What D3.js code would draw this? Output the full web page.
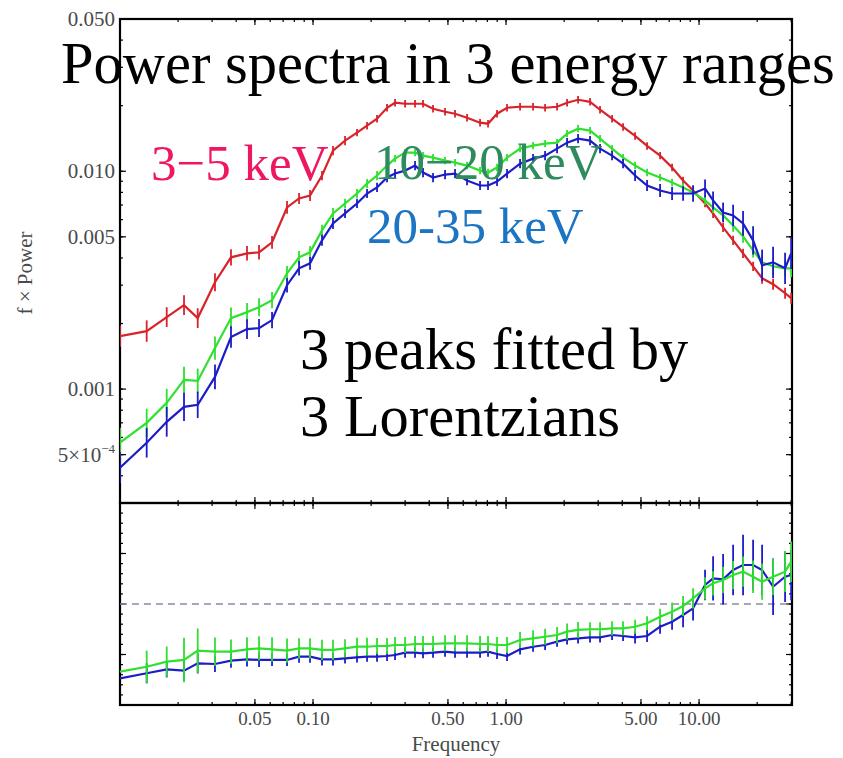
<!DOCTYPE html>
<html><head><meta charset="utf-8">
<script src="https://cdn.jsdelivr.net/npm/d3@7"></script>
<style>body{margin:0;background:#fff}svg{display:block}</style>
</head><body>
<svg id="c" width="843" height="758"></svg>
<script>
// ---------- data ----------
const freqs = [0.0100,0.01375,0.01746,0.02146,0.02527,0.03105,0.03759,0.04550,0.05252,0.06133,0.07334,0.08464,0.09650,
  0.1113,0.1269,0.1465,0.1690,0.1905,0.2146,0.2418,0.2660,0.2998,0.3377,0.3715,0.4186,0.4830,
  0.5442,0.6280,0.7334,0.8066,0.8981,1.012,1.182,1.380,1.593,1.838,2.071,2.361,2.724,3.069,3.542,4.039,4.661,5.378,
  6.281,7.246,8.262,9.309,10.74,11.82,13.32,15.01,16.90,19.05,21.21,24.18,27.90,30.0];

const power35 = [1.751e-3,1.846e-3,2.140e-3,2.429e-3,2.118e-3,3.095e-3,4.027e-3,4.201e-3,4.245e-3,4.719e-3,6.822e-3,7.500e-3,7.741e-3,
  9.557e-3,1.244e-2,1.382e-2,1.504e-2,1.619e-2,1.743e-2,1.957e-2,2.063e-2,2.041e-2,2.041e-2,2.041e-2,1.936e-2,1.876e-2,
  1.837e-2,1.761e-2,1.671e-2,1.653e-2,1.837e-2,1.957e-2,1.978e-2,1.978e-2,1.957e-2,1.978e-2,2.063e-2,2.129e-2,2.084e-2,1.916e-2,
  1.743e-2,1.597e-2,1.452e-2,1.307e-2,1.180e-2,1.040e-2,9.066e-3,8.162e-3,7.113e-3,6.402e-3,5.525e-3,4.818e-3,4.201e-3,
  3.662e-3,3.227e-3,3.030e-3,2.756e-3,2.615e-3];
const power1020 = [5.673e-4,7.003e-4,8.647e-4,1.102e-3,1.090e-3,1.543e-3,2.118e-3,2.256e-3,2.378e-3,2.560e-3,3.402e-3,4.027e-3,4.245e-3,
  5.354e-3,6.402e-3,7.113e-3,7.905e-3,8.785e-3,9.557e-3,1.062e-2,1.143e-2,1.218e-2,1.218e-2,1.180e-2,1.155e-2,1.119e-2,
  1.096e-2,1.062e-2,1.007e-2,9.865e-3,1.040e-2,1.155e-2,1.270e-2,1.311e-2,1.339e-2,1.353e-2,1.488e-2,1.569e-2,1.536e-2,1.412e-2,
  1.270e-2,1.155e-2,1.062e-2,9.865e-3,9.359e-3,8.878e-3,8.424e-3,7.991e-3,7.345e-3,6.822e-3,6.270e-3,5.643e-3,5.026e-3,
  4.335e-3,3.820e-3,3.662e-3,3.585e-3,3.585e-3];
const power2035 = [4.358e-4,5.673e-4,7.077e-4,8.290e-4,8.467e-4,1.137e-3,1.733e-3,1.886e-3,1.906e-3,2.074e-3,2.999e-3,3.585e-3,3.780e-3,
  4.818e-3,5.762e-3,6.402e-3,7.113e-3,7.905e-3,8.424e-3,9.359e-3,9.761e-3,1.007e-2,1.062e-2,9.865e-3,9.359e-3,9.658e-3,
  9.761e-3,9.066e-3,8.602e-3,8.602e-3,8.974e-3,9.761e-3,1.084e-2,1.143e-2,1.180e-2,1.270e-2,1.353e-2,1.412e-2,1.382e-2,1.270e-2,
  1.180e-2,1.084e-2,9.557e-3,8.602e-3,8.162e-3,7.905e-3,7.905e-3,7.905e-3,8.334e-3,7.345e-3,6.471e-3,6.270e-3,5.762e-3,
  4.818e-3,3.701e-3,3.820e-3,3.585e-3,4.201e-3];

// relative (fractional) errors
const err35 = [0.12,0.12,0.11,0.11,0.11,0.10,0.09,0.08,0.08,0.07,0.07,0.06,0.06,0.05,0.05,0.05,0.04,0.04,0.04,0.04,0.04,0.04,0.04,0.04,0.04,0.04,
  0.04,0.04,0.04,0.04,0.04,0.04,0.04,0.04,0.04,0.04,0.04,0.04,0.04,0.04,0.04,0.04,0.04,0.04,0.04,0.04,0.04,0.04,0.04,0.05,0.05,0.05,0.05,0.05,0.06,0.06,0.06,0.06];
const err1020 = [0.17,0.16,0.16,0.15,0.14,0.13,0.12,0.10,0.10,0.09,0.08,0.07,0.07,0.06,0.06,0.05,0.05,0.05,0.05,0.04,0.04,0.04,0.04,0.04,0.04,0.04,
  0.04,0.04,0.04,0.04,0.04,0.04,0.04,0.04,0.04,0.04,0.04,0.04,0.04,0.04,0.04,0.04,0.04,0.04,0.04,0.04,0.05,0.05,0.05,0.06,0.06,0.07,0.07,0.08,0.08,0.09,0.09,0.10];
const err2035 = [0.18,0.17,0.17,0.16,0.15,0.14,0.12,0.11,0.10,0.09,0.08,0.08,0.07,0.06,0.06,0.05,0.05,0.05,0.05,0.05,0.05,0.05,0.05,0.05,0.05,0.05,
  0.05,0.05,0.05,0.05,0.05,0.05,0.05,0.05,0.05,0.05,0.05,0.05,0.05,0.05,0.05,0.05,0.06,0.06,0.07,0.07,0.08,0.09,0.10,0.10,0.11,0.12,0.14,0.16,0.18,0.18,0.18,0.18];

// lower panel (ratio) values and absolute errors
const ratio1020 = [0.330,0.379,0.429,0.446,0.538,0.528,0.528,0.551,0.561,0.551,0.538,0.561,0.561,0.545,0.545,0.561,0.577,0.577,0.584,0.584,0.594,0.594,0.604,0.604,0.604,0.611,
  0.611,0.611,0.604,0.604,0.594,0.594,0.644,0.660,0.676,0.693,0.726,0.743,0.750,0.750,0.759,0.759,0.775,0.809,0.874,0.924,0.980,1.056,1.155,1.205,1.238,1.287,1.320,1.270,1.221,1.270,1.320,1.419];
const ratio2035 = [0.264,0.314,0.353,0.340,0.413,0.406,0.439,0.452,0.446,0.446,0.446,0.478,0.478,0.452,0.452,0.462,0.472,0.478,0.478,0.485,0.495,0.518,0.518,0.512,0.518,0.528,
  0.518,0.518,0.518,0.528,0.505,0.485,0.551,0.577,0.594,0.627,0.650,0.660,0.670,0.670,0.693,0.683,0.670,0.683,0.775,0.825,0.891,0.957,1.188,1.254,1.245,1.337,1.386,1.386,1.337,1.171,1.270,1.287];
const ratioErr1020 = [0.0,0.16,0.15,0.22,0.22,0.14,0.12,0.12,0.12,0.12,0.12,0.10,0.10,0.10,0.10,0.09,0.09,0.09,0.08,0.08,0.08,0.08,0.08,0.08,0.08,0.08,
  0.08,0.08,0.08,0.08,0.08,0.08,0.08,0.08,0.08,0.08,0.08,0.08,0.07,0.07,0.07,0.07,0.07,0.07,0.08,0.09,0.10,0.10,0.11,0.12,0.13,0.14,0.15,0.16,0.18,0.18,0.20,0.20];
const ratioErr2035 = [0.0,0.10,0.08,0.10,0.10,0.08,0.07,0.07,0.07,0.06,0.06,0.06,0.06,0.06,0.06,0.05,0.05,0.05,0.05,0.05,0.05,0.05,0.05,0.05,0.05,0.05,
  0.05,0.05,0.05,0.05,0.05,0.05,0.05,0.05,0.05,0.05,0.05,0.05,0.05,0.05,0.05,0.05,0.06,0.06,0.07,0.08,0.12,0.12,0.15,0.22,0.25,0.25,0.30,0.25,0.25,0.28,0.25,0.25];

const xTickValues = [0.05,0.1,0.5,1,5,10];
const xTickLabels = ["0.05","0.10","0.50","1.00","5.00","10.00"];
const yTickValues = [0.05,0.01,0.005,0.001,0.0005];
const yTickLabels = ["0.050","0.010","0.005","0.001","5×10"];
const ratioRefLine = 1;

// ---------- layout ----------
const L = 120, R = 792, T = 19, M = 503, B = 705;
const svg = d3.select("#c");
const serif = "'Liberation Serif','Times New Roman',serif";

const x = d3.scaleLog().domain([0.01, 30.3]).range([L, R]);
const y = d3.scaleLog().domain([3.0e-4, 0.05]).range([M, T]);
const yr = d3.scaleLinear().domain([0, 2]).range([B, M]);

const defs = svg.append("defs");
defs.append("clipPath").attr("id","clipTop").append("rect").attr("x",L).attr("y",T).attr("width",R-L).attr("height",M-T);
defs.append("clipPath").attr("id","clipBot").append("rect").attr("x",L).attr("y",M).attr("width",R-L).attr("height",B-M);

function logMinor(lo, hi){
  const out=[];
  for(let e=-5;e<=2;e++) for(let k=1;k<=9;k++){const v=k*Math.pow(10,e); if(v>=lo*0.999 && v<=hi*1.001) out.push(v);}
  return out;
}
const xMinor = logMinor(0.01, 30.3);
const yMinor = logMinor(3e-4, 0.05);
const yrMinor = d3.range(0, 2.0001, 0.1);
const yrMajor = d3.range(0, 2.0001, 0.5);

const axisG = svg.append("g").attr("stroke","#000");
function hTicks(yy, dir, vals, len){
  axisG.selectAll(null).data(vals).enter().append("line")
    .attr("x1",d=>x(d)).attr("x2",d=>x(d)).attr("y1",yy).attr("y2",yy+dir*len).attr("stroke-width",1.2);
}
function vTicks(xx, dir, scale, vals, len){
  axisG.selectAll(null).data(vals).enter().append("line")
    .attr("y1",d=>scale(d)).attr("y2",d=>scale(d)).attr("x1",xx).attr("x2",xx+dir*len).attr("stroke-width",1.2);
}
hTicks(T, 1, xMinor, 3); hTicks(T, 1, xTickValues, 6);
hTicks(M, -1, xMinor, 3); hTicks(M, -1, xTickValues, 6);
hTicks(M, 1, xMinor, 3); hTicks(M, 1, xTickValues, 6);
hTicks(B, -1, xMinor, 3); hTicks(B, -1, xTickValues, 6);
vTicks(L, 1, y, yMinor, 3); vTicks(L, 1, y, yTickValues, 6);
vTicks(R, -1, y, yMinor, 3); vTicks(R, -1, y, yTickValues, 6);
vTicks(L, 1, yr, yrMinor, 3); vTicks(L, 1, yr, yrMajor, 6);
vTicks(R, -1, yr, yrMinor, 3); vTicks(R, -1, yr, yrMajor, 6);

svg.append("rect").attr("x",L).attr("y",T).attr("width",R-L).attr("height",M-T).attr("fill","none").attr("stroke","#000").attr("stroke-width",2.2);
svg.append("rect").attr("x",L).attr("y",M).attr("width",R-L).attr("height",B-M).attr("fill","none").attr("stroke","#000").attr("stroke-width",2.2);

// tick labels
const lab = svg.append("g").attr("font-family",serif).attr("fill","#4a4a4a");
lab.selectAll(null).data(xTickValues).enter().append("text")
  .attr("font-size",19).attr("x",d=>x(d)).attr("y",725).attr("text-anchor","middle").text((d,i)=>xTickLabels[i]);
lab.selectAll(null).data(yTickValues).enter().append("text")
  .attr("font-size",21).attr("x",L-5).attr("y",d=>y(d)+7).attr("text-anchor","end")
  .each(function(d,i){
    const t=d3.select(this);
    if(i===4){ t.text(yTickLabels[i]); t.append("tspan").attr("dy",-9).attr("font-size",13).text("−4"); }
    else t.text(yTickLabels[i]);
  });
svg.append("text").attr("x",456).attr("y",751).attr("text-anchor","middle")
  .attr("font-family",serif).attr("font-size",21).attr("fill","#4a4a4a").text("Frequency");
svg.append("text").attr("transform","translate(32,273) rotate(-90)").attr("text-anchor","middle")
  .attr("font-family",serif).attr("font-size",21).attr("fill","#4a4a4a").text("f × Power");

// dashed reference line
svg.append("line").attr("x1",L).attr("x2",R).attr("y1",yr(ratioRefLine)).attr("y2",yr(ratioRefLine))
  .attr("stroke","#8a8aa8").attr("stroke-width",1.5).attr("stroke-dasharray","7,5");

function drawSeries(g, scale, vals, errs, color, relative){
  const pts = freqs.map((f,i)=>({f, v: vals[i], e: errs[i]}));
  g.append("path").datum(pts).attr("fill","none").attr("stroke",color).attr("stroke-width",2.2)
    .attr("d", d3.line().x(d=>x(d.f)).y(d=>scale(d.v)));
  g.selectAll(null).data(pts).enter().append("line")
    .attr("x1",d=>x(d.f)).attr("x2",d=>x(d.f))
    .attr("y1",d=>relative ? scale(d.v*(1+d.e)) : scale(d.v+d.e))
    .attr("y2",d=>relative ? scale(d.v/(1+d.e)) : scale(d.v-d.e))
    .attr("stroke",color).attr("stroke-width",1.8);
}
const cRed="#d8232b", cGreen="#2fe02f", cBlue="#1c1cc8";
const gTop = svg.append("g").attr("clip-path","url(#clipTop)");
drawSeries(gTop, y, power35, err35, cRed, true);
drawSeries(gTop, y, power1020, err1020, cGreen, true);
drawSeries(gTop, y, power2035, err2035, cBlue, true);
const gBot = svg.append("g").attr("clip-path","url(#clipBot)");
drawSeries(gBot, yr, ratio2035, ratioErr2035, cBlue, false);
drawSeries(gBot, yr, ratio1020, ratioErr1020, cGreen, false);

// annotation texts
const ann = svg.append("g").attr("font-family",serif);
ann.append("text").attr("x",61).attr("y",83).attr("font-size",58.5).attr("fill","#000").text("Power spectra in 3 energy ranges");
ann.append("text").attr("x",151).attr("y",180).attr("font-size",51).attr("fill","#ee1860").text("3−5 keV");
ann.append("text").attr("x",374).attr("y",179).attr("font-size",51).attr("fill","#2e8b5e").text("10−20 keV");
ann.append("text").attr("x",367).attr("y",243).attr("font-size",51).attr("fill","#1b75c2").text("20-35 keV");
ann.append("text").attr("x",300).attr("y",369).attr("font-size",58.5).attr("fill","#000").text("3 peaks fitted by");
ann.append("text").attr("x",300).attr("y",436).attr("font-size",58.5).attr("fill","#000").text("3 Lorentzians");
</script>
</body></html>
